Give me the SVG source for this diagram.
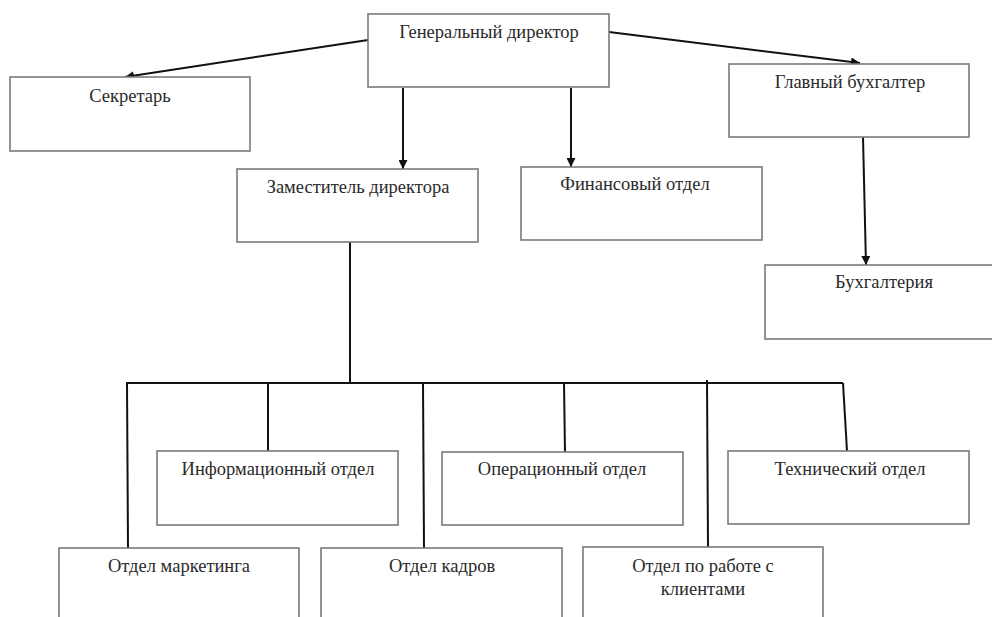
<svg xmlns="http://www.w3.org/2000/svg" width="992" height="617" viewBox="0 0 992 617">
<style>
.box{fill:#fff;stroke:#7a7a7a;stroke-width:1.6}
.t{font-family:"Liberation Serif","Times New Roman",serif;font-size:18.5px;fill:#2a2a2a;text-anchor:middle}
.c{stroke:#111;stroke-width:2;fill:none}
</style>
<defs>
<marker id="ah" viewBox="0 0 10 10" refX="10" refY="5" markerWidth="4.5" markerHeight="4.5" orient="auto" markerUnits="strokeWidth">
<path d="M0,0 L10,5 L0,10 z" fill="#111"/>
</marker>
</defs>
<rect width="992" height="617" fill="#fff"/>
<g id="connectors">
<line class="c" x1="368" y1="40" x2="125" y2="77" marker-end="url(#ah)"/>
<line class="c" x1="609" y1="32" x2="860" y2="63" marker-end="url(#ah)"/>
<line class="c" x1="403" y1="88" x2="403" y2="169" marker-end="url(#ah)"/>
<line class="c" x1="571" y1="88" x2="571" y2="167" marker-end="url(#ah)"/>
<line class="c" x1="863" y1="137" x2="866" y2="265" marker-end="url(#ah)"/>
<line class="c" x1="350" y1="242" x2="350" y2="383"/>
<line class="c" x1="126" y1="383" x2="843" y2="383"/>
<line class="c" x1="127" y1="383" x2="128" y2="548"/>
<line class="c" x1="268" y1="383" x2="268" y2="451"/>
<line class="c" x1="423" y1="383" x2="424" y2="548"/>
<line class="c" x1="564" y1="383" x2="565" y2="453"/>
<line class="c" x1="707" y1="380" x2="708" y2="547"/>
<line class="c" x1="843" y1="383" x2="847" y2="451"/>
</g>
<g id="gen-director"><rect class="box" x="368" y="14" width="241" height="73"/><text class="t" x="489" y="38">Генеральный директор</text></g>
<g id="secretary"><rect class="box" x="10" y="77" width="240" height="74"/><text class="t" x="130" y="102">Секретарь</text></g>
<g id="chief-accountant"><rect class="box" x="729" y="64" width="240" height="73"/><text class="t" x="850" y="88">Главный бухгалтер</text></g>
<g id="deputy"><rect class="box" x="237" y="169" width="241" height="73"/><text class="t" x="358" y="193">Заместитель директора</text></g>
<g id="finance"><rect class="box" x="521" y="167" width="241" height="73"/><text class="t" x="635" y="190">Финансовый отдел</text></g>
<g id="accounting"><rect class="box" x="765" y="265" width="240" height="74"/><text class="t" x="884" y="288">Бухгалтерия</text></g>
<g id="info"><rect class="box" x="157" y="451" width="241" height="74"/><text class="t" x="278" y="475">Информационный отдел</text></g>
<g id="operational"><rect class="box" x="442" y="452" width="241" height="73"/><text class="t" x="562" y="475">Операционный отдел</text></g>
<g id="technical"><rect class="box" x="728" y="451" width="241" height="73"/><text class="t" x="850" y="475">Технический отдел</text></g>
<g id="marketing"><rect class="box" x="59" y="548" width="240" height="90"/><text class="t" x="179" y="572">Отдел маркетинга</text></g>
<g id="hr"><rect class="box" x="321" y="548" width="241" height="90"/><text class="t" x="442" y="572">Отдел кадров</text></g>
<g id="clients"><rect class="box" x="583" y="547" width="240" height="90"/><text class="t" x="703" y="572">Отдел по работе с</text><text class="t" x="703" y="595">клиентами</text></g>
</svg>
